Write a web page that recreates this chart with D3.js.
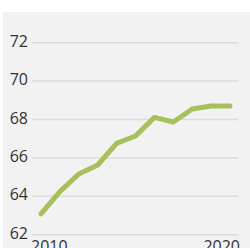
<!DOCTYPE html>
<html>
<head>
<meta charset="utf-8">
<script src="https://cdn.jsdelivr.net/npm/d3@7"></script>
<style>
	body { margin: 0; background: #fff; }
	svg { display: block; }
	text { font-family: "Open Sans", sans-serif; font-size: 16px; fill: #333; }
</style>
</head>
<body>
<div id="chart"></div>
<script>
var years = [2010, 2011, 2012, 2013, 2014, 2015, 2016, 2017, 2018, 2019, 2020];
var values = [63.08, 64.24, 65.16, 65.63, 66.76, 67.14, 68.11, 67.87, 68.55, 68.7, 68.7];
var yTicks = [62, 64, 66, 68, 70, 72];
var xLabels = [2010, 2020];

var W = 250, H = 248;

var svg = d3.select("#chart").append("svg")
	.attr("width", W)
	.attr("height", H);

// grey panel
svg.append("rect")
	.attr("x", 3)
	.attr("y", 12)
	.attr("width", W - 3)
	.attr("height", H - 12)
	.attr("fill", "#f2f2f2");

var x = d3.scaleLinear().domain([2010, 2020]).range([41, 230]);
var y = d3.scaleLinear().domain([62, 72]).range([234.7, 42.7]);

// grid lines + y labels
var g = svg.append("g");
g.selectAll("line.grid")
	.data(yTicks)
	.enter().append("line")
	.attr("class", "grid")
	.attr("x1", 32)
	.attr("x2", 238)
	.attr("y1", function(d){ return y(d); })
	.attr("y2", function(d){ return y(d); })
	.attr("stroke", "#dcdcdc")
	.attr("stroke-width", 1.5);

g.selectAll("text.ylab")
	.data(yTicks)
	.enter().append("text")
	.attr("class", "ylab")
	.attr("x", 28)
	.attr("y", function(d){ return y(d) + 4; })
	.attr("text-anchor", "end")
	.text(function(d){ return d; });

// x labels pinned to the ends of the plot area
svg.selectAll("text.xlab")
	.data(xLabels)
	.enter().append("text")
	.attr("class", "xlab")
	.attr("x", function(d, i){ return i == 0 ? 31 : 240; })
	.attr("y", 251.5)
	.attr("text-anchor", function(d, i){ return i == 0 ? "start" : "end"; })
	.text(function(d){ return d; });

var line = d3.line()
	.x(function(d, i){ return x(years[i]); })
	.y(function(d){ return y(d); });

svg.append("path")
	.datum(values)
	.attr("d", line)
	.attr("fill", "none")
	.attr("stroke", "#a6c15b")
	.attr("stroke-width", 5)
	.attr("stroke-linecap", "round")
	.attr("stroke-linejoin", "round");
</script>
</body>
</html>
